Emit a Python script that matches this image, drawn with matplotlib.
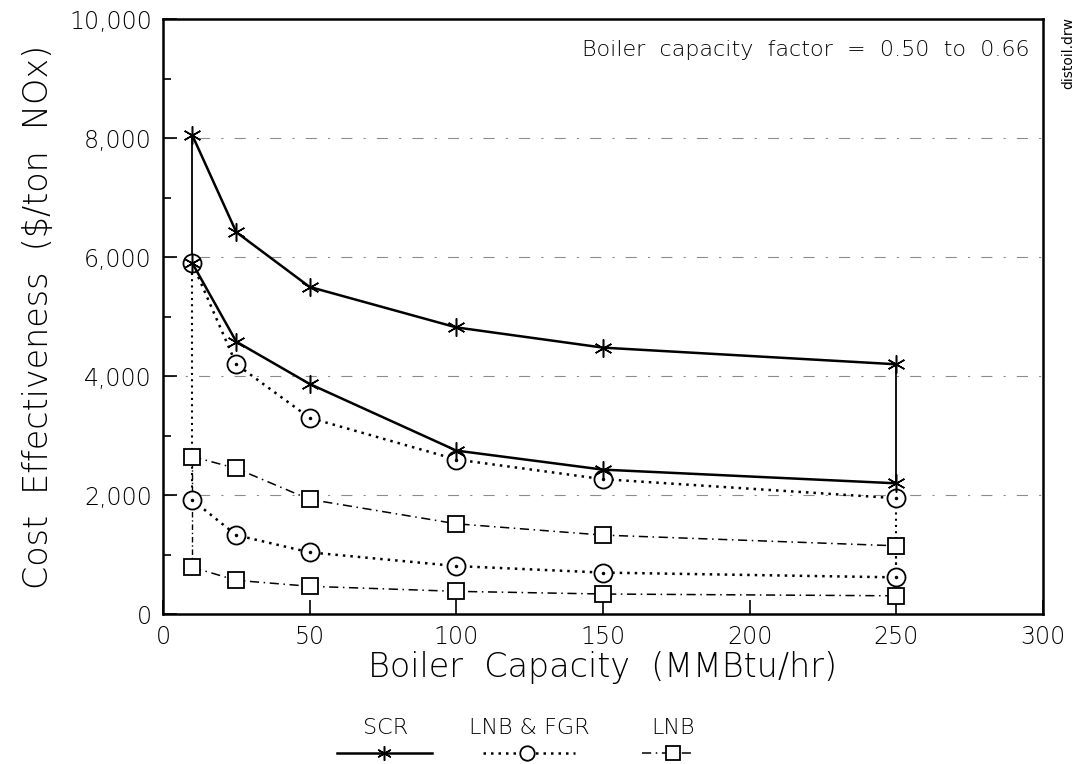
import matplotlib
matplotlib.use("Agg")
import matplotlib.pyplot as plt
from matplotlib.lines import Line2D

plt.rcParams['font.family'] = ['DejaVu Sans']

capacity = [10, 25, 50, 100, 150, 250]
scr_high = [8050, 6420, 5500, 4820, 4480, 4200]
scr_low = [5900, 4580, 3870, 2750, 2430, 2200]
fgr_high = [5900, 4200, 3300, 2600, 2270, 1950]
fgr_low = [1920, 1330, 1040, 810, 700, 620]
lnb_high = [2650, 2450, 1930, 1520, 1330, 1150]
lnb_low = [790, 570, 470, 385, 340, 310]

xticks = [0, 50, 100, 150, 200, 250, 300]
yticks = [0, 2000, 4000, 6000, 8000, 10000]
ytick_labels = ['0', '2,000', '4,000', '6,000', '8,000', '10,000']

fig = plt.figure(figsize=(10.82, 7.64), dpi=100)
ax = fig.add_axes([0.1506, 0.196, 0.8134, 0.779])
ax.set_xlim(0, 300)
ax.set_ylim(0, 10000)

# faint dash-dot grid lines
for y in yticks[1:-1]:
    ax.axhline(y, color='black', lw=0.8, ls=(0, (10, 10, 2, 10)), alpha=0.45, zorder=1)

star = (6, 2, 0)
scr_kw = dict(color='black', lw=1.8, marker=star, ms=13, mew=1.1)
fgr_kw = dict(color='black', lw=1.8, ls=(0, (1, 2)), marker='o', ms=13,
              mfc='white', mew=1.3)
lnb_kw = dict(color='black', lw=1.1, ls=(0, (6, 3, 1, 3)), marker='s', ms=12,
              mfc='white', mew=1.3)

# vertical connectors at ends
ax.plot([capacity[0]] * 2, [lnb_low[0], lnb_high[0]], color='black', lw=1.0,
        ls=(0, (4, 2, 1, 2)), zorder=2)
ax.plot([capacity[-1]] * 2, [lnb_low[-1], lnb_high[-1]], color='black', lw=1.5,
        ls=(0, (1, 2)), zorder=2)
ax.plot([capacity[0]] * 2, [fgr_low[0], fgr_high[0]], color='black', lw=1.5,
        ls=(0, (1, 2)), zorder=2)
ax.plot([capacity[-1]] * 2, [fgr_low[-1], fgr_high[-1]], color='black', lw=1.5,
        ls=(0, (1, 2)), zorder=2)
ax.plot([capacity[0]] * 2, [scr_low[0], scr_high[0]], color='black', lw=1.3, zorder=2)
ax.plot([capacity[-1]] * 2, [scr_low[-1], scr_high[-1]], color='black', lw=1.3, zorder=2)

ax.plot(capacity, lnb_high, zorder=3, **lnb_kw)
ax.plot(capacity, lnb_low, zorder=3, **lnb_kw)
ax.plot(capacity, fgr_high, zorder=4, **fgr_kw)
ax.plot(capacity, fgr_low, zorder=4, **fgr_kw)
# center dots in circles
ax.plot(capacity, fgr_high, ls='none', marker='.', ms=3, color='black', zorder=5)
ax.plot(capacity, fgr_low, ls='none', marker='.', ms=3, color='black', zorder=5)
ax.plot(capacity, scr_high, zorder=6, **scr_kw)
ax.plot(capacity, scr_low, zorder=6, **scr_kw)

ax.set_xticks(xticks)
ax.set_yticks(yticks)
ax.set_yticklabels(ytick_labels)
ax.set_yticks(range(1000, 10000, 2000), minor=True)
ax.tick_params(axis='both', which='major', direction='in', length=10, width=1.2,
               labelsize=17, pad=8)
ax.tick_params(axis='both', which='minor', direction='in', length=6, width=1.2)
for lbl in ax.get_xticklabels() + ax.get_yticklabels():
    lbl.set_fontweight('light')
for s in ax.spines.values():
    s.set_linewidth(1.8)

ax.set_xlabel('Boiler  Capacity  (MMBtu/hr)', fontsize=24, labelpad=1,
              fontweight='light')
ax.set_ylabel('Cost  Effectiveness  ($/ton  NOx)', fontsize=24, labelpad=10,
              fontweight='light')

ax.text(0.985, 0.965, 'Boiler  capacity  factor  =  0.50  to  0.66', transform=ax.transAxes,
        ha='right', va='top', fontsize=16, fontweight='light')
fig.text(0.987, 0.93, 'distoil.drw', rotation=90, ha='center', va='center', fontsize=10)

# legend: labels above line samples
lax = fig.add_axes([0.3, 0.0, 0.4, 0.1])
lax.set_xlim(0, 1)
lax.set_ylim(0, 1)
lax.axis('off')
entries = [
    ('SCR', 0.029, 0.137, 0.248, 0.142, scr_kw),
    ('LNB & FGR', 0.366, 0.468, 0.579, 0.472, fgr_kw),
    ('LNB', 0.733, 0.805, 0.851, 0.805, lnb_kw),
]
for label, x0, xm, x1, xl, kw in entries:
    lax.text(xl, 0.47, label, ha='center', va='center', fontsize=16,
             fontweight='light')
    kw2 = dict(kw)
    kw2['ms'] = kw['ms'] * 0.8
    lax.add_line(Line2D([x0, xm, x1], [0.145, 0.145, 0.145], markevery=[1], **kw2))

fig.savefig('out.png', dpi=100)
